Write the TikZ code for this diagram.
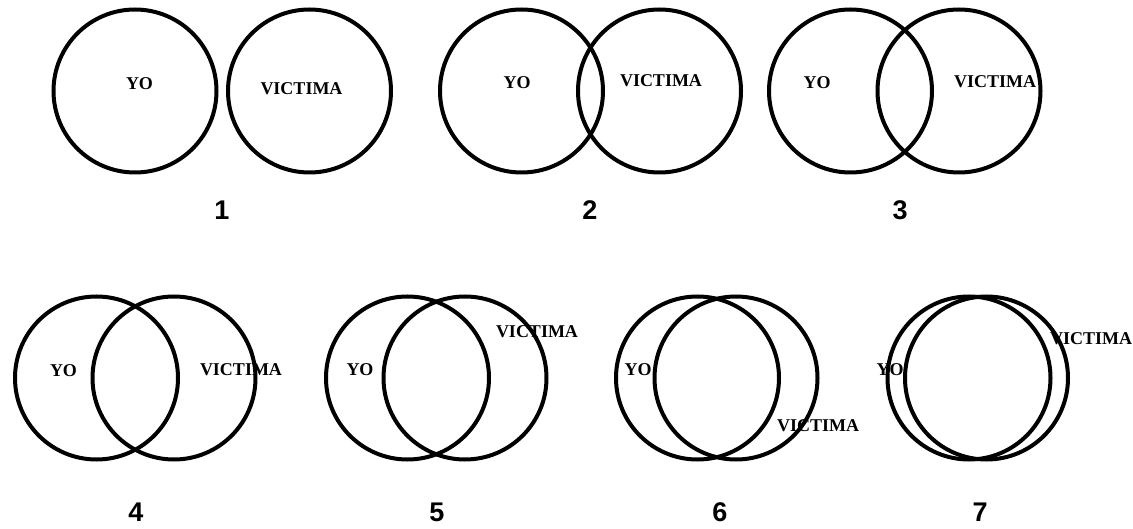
\documentclass[tikz,border=0pt]{standalone}
\usepackage{fontspec}
\setmainfont{Liberation Serif}
\newfontfamily\numfont{Liberation Sans}
\usepackage{tikz}

\begin{document}
\begin{tikzpicture}[x=1pt,y=-1pt,
  venn/.style={draw,circle,line width=4pt,minimum size=163pt,inner sep=0pt},
  lbl/.style={font=\fontsize{18}{18}\selectfont\bfseries,inner sep=0pt},
  num/.style={font=\fontsize{27}{27}\selectfont\numfont\bfseries,inner sep=0pt}]
\useasboundingbox (0,0) rectangle (1133,529);
% labels first, the circle lines run over them
\node[lbl] (yoA) at (139.5,84) {YO};
\node[lbl] (vicA) at (301.5,89) {VICTIMA};
\node[lbl] (yoB) at (517,83) {YO};
\node[lbl] (vicB) at (661,81) {VICTIMA};
\node[lbl] (yoC) at (817,83) {YO};
\node[lbl] (vicC) at (995,82) {VICTIMA};
\node[lbl] (yoD) at (63.5,371) {YO};
\node[lbl] (vicD) at (241,370) {VICTIMA};
\node[lbl] (yoE) at (360,370) {YO};
\node[lbl] (vicE) at (537,332) {VICTIMA};
\node[lbl] (yoF) at (638,370) {YO};
\node[lbl] (vicF) at (818,426) {VICTIMA};
\node[lbl] (yoG) at (890,370) {YO};
\node[lbl] (vicG) at (1091,339) {VICTIMA};
% circles
\node[venn] (selfA) at (135,91) {};
\node[venn] (victA) at (309.5,91) {};
\node[venn] (selfB) at (521.5,91) {};
\node[venn] (victB) at (659.5,91) {};
\node[venn] (selfC) at (850.5,91) {};
\node[venn] (victC) at (959,91) {};
\node[venn] (selfD) at (96.5,378) {};
\node[venn] (victD) at (174,378) {};
\node[venn] (selfE) at (407.5,378) {};
\node[venn] (victE) at (465,378) {};
\node[venn] (selfF) at (697.5,378) {};
\node[venn] (victF) at (736,378) {};
\node[venn] (selfG) at (969,378) {};
\node[venn] (victG) at (986.5,378) {};
% step numbers
\node[num] (nA) at (222,210) {1};
\node[num] (nB) at (590,210) {2};
\node[num] (nC) at (900,210) {3};
\node[num] (nD) at (136,512) {4};
\node[num] (nE) at (437,512) {5};
\node[num] (nF) at (720,512) {6};
\node[num] (nG) at (980,512) {7};
\end{tikzpicture}
\end{document}
